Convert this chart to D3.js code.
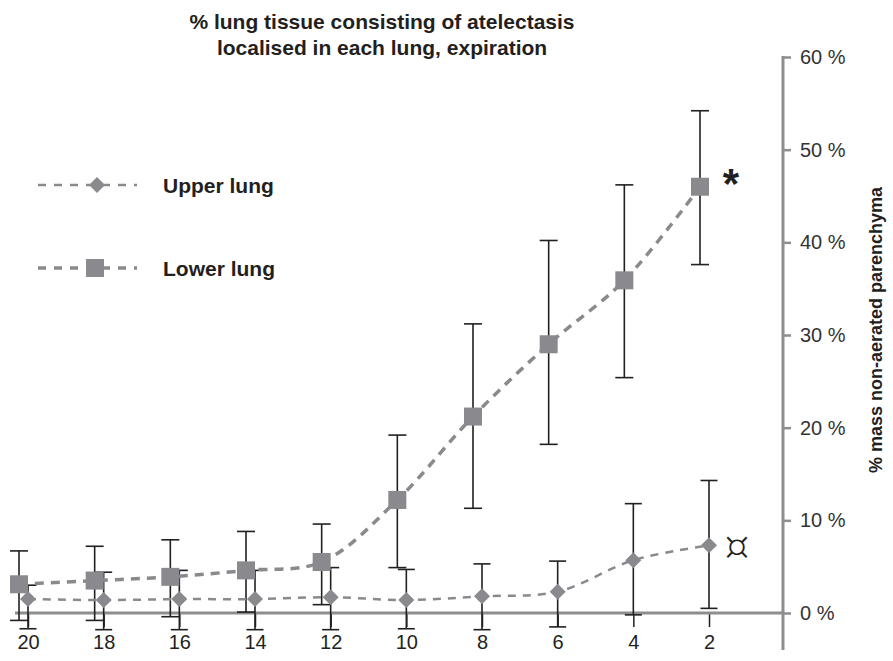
<!DOCTYPE html>
<html>
<meta charset="utf-8">
<script src="https://d3js.org/d3.v7.min.js"></script>
<style>
  body { margin: 0; background: #fff; }
  text { font-family: "Liberation Sans", Arial, sans-serif; }
</style>
<body>
<div id="my_dataviz"></div>
<script>

// categories (x axis, read right to left as in the original)
var categories = [20, 18, 16, 14, 12, 10, 8, 6, 4, 2];

// lower lung: mean and error bar ends (% mass non-aerated)
var lowerMean = [3.1, 3.5, 3.9, 4.6, 5.5, 12.2, 21.2, 29.0, 35.9, 46.0];
var lowerHigh = [6.7, 7.2, 7.9, 8.8, 9.6, 19.2, 31.2, 40.2, 46.2, 54.2];
var lowerLow  = [-0.8, -0.8, -0.4, 0.1, 0.9, 4.9, 11.3, 18.2, 25.4, 37.6];

// upper lung
var upperMean = [1.5, 1.4, 1.5, 1.5, 1.7, 1.4, 1.8, 2.3, 5.7, 7.3];
var upperHigh = [3.0, 4.4, 4.6, 4.6, 4.9, 4.7, 5.3, 5.6, 11.8, 14.3];
var upperLow  = [-1.7, -1.8, -1.8, -1.8, -1.8, -1.7, -1.8, -1.5, -0.2, 0.5];

var yTicks = [0, 10, 20, 30, 40, 50, 60];

var width = 893, height = 661;
var grey = "#8a8a8e", axisGrey = "#8e8e90", ink = "#231f20";

var svg = d3.select("#my_dataviz")
  .append("svg")
    .attr("width", width)
    .attr("height", height);

var x = d3.scalePoint()
  .domain(categories)
  .range([28, 709]);

var y = d3.scaleLinear()
  .domain([0, 60])
  .range([613, 57]);

var lowerShift = -9;

function rows(mean, hi, lo) {
  return categories.map(function(c, i) {
    return {cat: c, mean: mean[i], hi: hi[i], lo: lo[i]};
  });
}
var lower = rows(lowerMean, lowerHigh, lowerLow);
var upper = rows(upperMean, upperHigh, upperLow);

// title
svg.append("text")
  .attr("x", 382).attr("y", 29)
  .attr("text-anchor", "middle")
  .style("font-size", "21px").style("font-weight", "bold").attr("fill", ink)
  .text("% lung tissue consisting of atelectasis");
svg.append("text")
  .attr("x", 382).attr("y", 55)
  .attr("text-anchor", "middle")
  .style("font-size", "21px").style("font-weight", "bold").attr("fill", ink)
  .text("localised in each lung, expiration");

// x axis: ticks + labels, baseline drawn separately
var xAxis = svg.append("g")
  .attr("transform", "translate(0," + y(0) + ")")
  .call(d3.axisBottom(x).tickSize(14).tickPadding(8));
xAxis.select(".domain").remove();
xAxis.selectAll("line").attr("stroke", ink).attr("stroke-width", 1.5);
xAxis.selectAll("text")
  .style("font-size", "20px")
  .style("font-family", "Liberation Sans, Arial, sans-serif")
  .attr("fill", ink);

svg.append("line")
  .attr("x1", 15).attr("x2", 783)
  .attr("y1", y(0)).attr("y2", y(0))
  .attr("stroke", axisGrey).attr("stroke-width", 3);

// right y axis
var yAxis = svg.append("g")
  .attr("transform", "translate(783,0)")
  .call(d3.axisRight(y).tickValues(yTicks).tickSize(8).tickPadding(9)
    .tickFormat(function(d) { return d + " %"; }));
yAxis.select(".domain").remove();
yAxis.selectAll("line").attr("stroke", axisGrey).attr("stroke-width", 2.5);
yAxis.selectAll("text")
  .style("font-size", "20px")
  .style("font-family", "Liberation Sans, Arial, sans-serif")
  .attr("fill", "#333");
svg.append("line")
  .attr("x1", 783).attr("x2", 783)
  .attr("y1", y(60) - 1).attr("y2", 650)
  .attr("stroke", axisGrey).attr("stroke-width", 3);

svg.append("text")
  .attr("transform", "translate(882,330) rotate(-90)")
  .attr("text-anchor", "middle")
  .style("font-size", "18px").style("font-weight", "bold").attr("fill", ink)
  .text("% mass non-aerated parenchyma");

// error bars
function errorBars(data, shift, half) {
  var g = svg.append("g").attr("stroke", ink).attr("stroke-width", 1.6);
  g.selectAll("line.v").data(data).enter().append("line")
    .attr("x1", function(d) { return x(d.cat) + shift; })
    .attr("x2", function(d) { return x(d.cat) + shift; })
    .attr("y1", function(d) { return y(d.hi); })
    .attr("y2", function(d) { return y(d.lo); });
  ["hi", "lo"].forEach(function(k) {
    g.selectAll("line." + k).data(data).enter().append("line")
      .attr("x1", function(d) { return x(d.cat) + shift - half; })
      .attr("x2", function(d) { return x(d.cat) + shift + half; })
      .attr("y1", function(d) { return y(d[k]); })
      .attr("y2", function(d) { return y(d[k]); });
  });
}
errorBars(upper, 0, 8.5);
errorBars(lower, lowerShift, 9);

// dashed smoothed lines
var lineUpper = d3.line()
  .x(function(d) { return x(d.cat); })
  .y(function(d) { return y(d.mean); })
  .curve(d3.curveCatmullRom.alpha(0.5));
var lineLower = d3.line()
  .x(function(d) { return x(d.cat) + lowerShift; })
  .y(function(d) { return y(d.mean); })
  .curve(d3.curveCatmullRom.alpha(0.5));

svg.append("path").datum(upper)
  .attr("d", lineUpper)
  .attr("fill", "none").attr("stroke", grey)
  .attr("stroke-width", 2.5).attr("stroke-dasharray", "8,7");
svg.append("path").datum(lower)
  .attr("d", lineLower)
  .attr("fill", "none").attr("stroke", grey)
  .attr("stroke-width", 3.5).attr("stroke-dasharray", "9,7");

// markers
var diamond = "M0,-8L8,0L0,8L-8,0Z";
svg.selectAll("path.dia").data(upper).enter().append("path")
  .attr("class", "dia")
  .attr("d", diamond)
  .attr("transform", function(d) { return "translate(" + x(d.cat) + "," + y(d.mean) + ")"; })
  .attr("fill", grey);
svg.selectAll("rect.sq").data(lower).enter().append("rect")
  .attr("class", "sq")
  .attr("x", function(d) { return x(d.cat) + lowerShift - 9; })
  .attr("y", function(d) { return y(d.mean) - 9; })
  .attr("width", 18).attr("height", 18)
  .attr("fill", grey);

// significance marks at the last point
var last = categories.length - 1;
svg.append("text")
  .attr("x", x(categories[last]) + 22)
  .attr("y", y(lowerMean[last]) + 11)
  .attr("text-anchor", "middle")
  .style("font-size", "42px").style("font-weight", "bold").attr("fill", ink)
  .text("*");
svg.append("text")
  .attr("x", x(categories[last]) + 28)
  .attr("y", y(upperMean[last]) + 15)
  .attr("text-anchor", "middle")
  .style("font-family", "DejaVu Sans")
  .style("font-weight", "200")
  .style("font-size", "40px").attr("fill", ink)
  .text("\u00a4");

// legend
var legend = [
  {name: "Upper lung", y: 185, shape: "dia", w: 2.5},
  {name: "Lower lung", y: 268, shape: "sq", w: 3.5}
];
legend.forEach(function(l) {
  svg.append("line")
    .attr("x1", 38).attr("x2", 137)
    .attr("y1", l.y).attr("y2", l.y)
    .attr("stroke", grey).attr("stroke-width", l.w)
    .attr("stroke-dasharray", "8,8");
  if (l.shape == "dia") {
    svg.append("path").attr("d", diamond)
      .attr("transform", "translate(97," + l.y + ")")
      .attr("fill", grey);
  } else {
    svg.append("rect")
      .attr("x", 86).attr("y", l.y - 9).attr("width", 18).attr("height", 18)
      .attr("fill", grey);
  }
  svg.append("text")
    .attr("x", 163).attr("y", l.y + 8)
    .style("font-size", "21px").style("font-weight", "bold").attr("fill", ink)
    .text(l.name);
});

</script>
</body>
</html>
